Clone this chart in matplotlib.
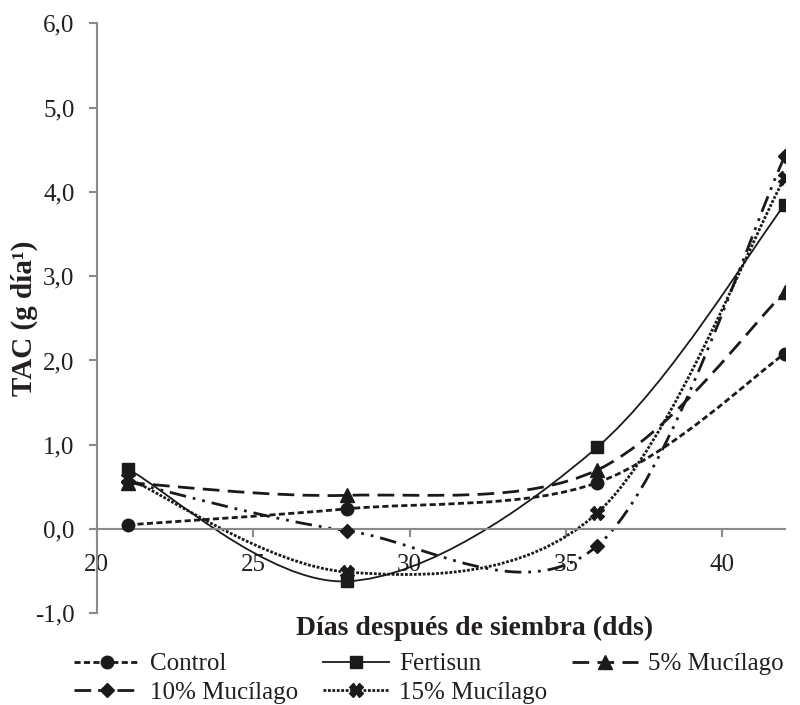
import numpy as np
import matplotlib
matplotlib.use('Agg')
import matplotlib.pyplot as plt
from matplotlib.path import Path
from matplotlib.patches import PathPatch
from matplotlib.lines import Line2D
from matplotlib.ticker import FuncFormatter

plt.rcParams['font.family'] = ['Liberation Serif', 'DejaVu Serif']

# data
dias = [21, 28, 36, 42]
control = [0.05, 0.24, 0.55, 2.08]
fertisun = [0.71, -0.62, 0.97, 3.85]
mucilago5 = [0.55, 0.40, 0.70, 2.81]
mucilago10 = [0.56, -0.02, -0.20, 4.42]
mucilago15 = [0.60, -0.51, 0.19, 4.17]

labels = ['Control', 'Fertisun', '5% Mucílago', '10% Mucílago', '15% Mucílago']
xticks = [20, 25, 30, 35, 40]
yticks = [-1, 0, 1, 2, 3, 4, 5, 6]

txt = '#231f20'
grey = '#8a8a8a'

styles = [
    dict(ls=(0, (2.2, 1.2)), lw=2.0, marker='o'),
    dict(ls='-', lw=1.3, marker='s'),
    dict(ls=(0, (6, 3)), lw=2.0, marker='^'),
    dict(ls=(0, (6, 2.5, 1, 2.5, 1, 2.5)), lw=2.0, marker='D'),
    dict(ls=(0, (1, 0.6)), lw=2.0, marker='X'),
]
msizes = [9, 9, 9.5, 7, 9.5]


def smooth_path(x, y):
    # excel-like smoothed line: cubic bezier segments (catmull-rom tangents)
    pts = np.column_stack([x, y]).astype(float)
    n = len(pts)
    verts = [pts[0]]
    codes = [Path.MOVETO]
    for i in range(n - 1):
        p0 = pts[max(i - 1, 0)]
        p1 = pts[i]
        p2 = pts[i + 1]
        p3 = pts[min(i + 2, n - 1)]
        c1 = p1 + (p2 - p0) / 6.0
        c2 = p2 - (p3 - p1) / 6.0
        verts += [c1, c2, p2]
        codes += [Path.CURVE4] * 3
    return Path(verts, codes)


fig = plt.figure(figsize=(8, 7.05), dpi=100)
ax = fig.add_axes([0.121, 0.130, 0.860, 0.837])

series = [control, fertisun, mucilago5, mucilago10, mucilago15]
handles = []
for vals, st, ms, lab in zip(series, styles, msizes, labels):
    patch = PathPatch(smooth_path(dias, vals), facecolor='none', edgecolor='#1a1a1a',
                      lw=st['lw'], ls=st['ls'], zorder=2)
    ax.add_patch(patch)
    ax.plot(dias, vals, ls='none', marker=st['marker'], ms=ms, color='#1a1a1a', zorder=3)
    handles.append(Line2D([], [], color='#1a1a1a', lw=st['lw'], ls=st['ls'],
                          marker=st['marker'], ms=ms, label=lab))

ax.set_xlim(20, 42)
ax.set_ylim(-1, 6)
ax.set_xticks(xticks)
ax.set_yticks(yticks)
ax.yaxis.set_major_formatter(FuncFormatter(lambda v, p: f'{v:.1f}'.replace('.', ',')))

for s in ['top', 'right']:
    ax.spines[s].set_visible(False)
ax.spines['bottom'].set_position(('data', 0))
for s in ['bottom', 'left']:
    ax.spines[s].set_color(grey)
    ax.spines[s].set_linewidth(1.5)

ax.tick_params(axis='both', colors=grey, width=1.5, length=6, labelcolor=txt, labelsize=18)
ax.tick_params(axis='x', pad=12)
ax.tick_params(axis='y', pad=10)

ax.set_ylabel('TAC (g día¹)', fontsize=21, fontweight='bold', color=txt)
ax.yaxis.set_label_coords(-0.085, 0.5)
fig.text(0.593, 0.108, 'Días después de siembra (dds)', fontsize=20, fontweight='bold',
         color=txt, ha='center', va='center')

order = [0, 3, 1, 4, 2]
leg = ax.legend(handles=[handles[i] for i in order], ncol=3, loc='upper left',
                bbox_to_anchor=(0.0925, 0.074), bbox_transform=fig.transFigure,
                frameon=False, fontsize=18, handlelength=2.64, handletextpad=0.4,
                columnspacing=1.0, labelspacing=0.25, borderpad=0, borderaxespad=0)
for t in leg.get_texts():
    t.set_color(txt)

fig.savefig('out.png', dpi=100)
